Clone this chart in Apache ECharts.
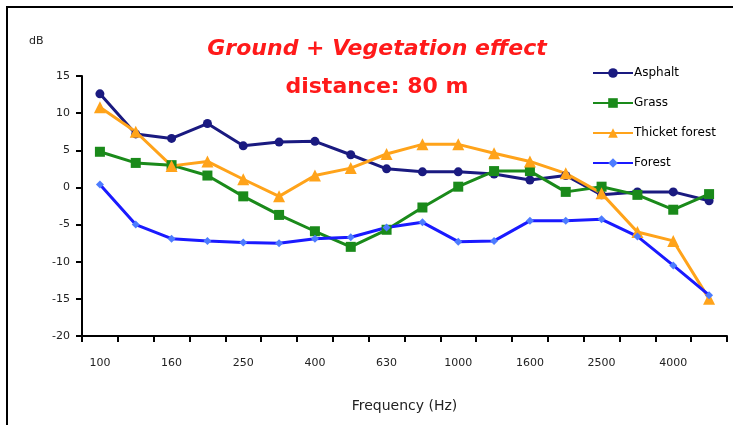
<!DOCTYPE html>
<html><head><meta charset="utf-8">
<script src="https://cdn.jsdelivr.net/npm/echarts@6/dist/echarts.min.js"></script>
<style>html,body{margin:0;padding:0;background:#fff}#c{width:733px;height:425px}</style>
</head><body><div id="c"></div>
<script>
const categories = ['100','125','160','200','250','315','400','500','630','800','1000','1250','1600','2000','2500','3150','4000','5000'];
const asphalt = [12.6, 7.2, 6.6, 8.6, 5.6, 6.1, 6.2, 4.4, 2.5, 2.1, 2.1, 1.8, 1.0, 1.6, -1.0, -0.6, -0.6, -1.8];
const grass = [4.8, 3.3, 3.0, 1.6, -1.2, -3.7, -5.9, -8.0, -5.7, -2.7, 0.1, 2.2, 2.2, -0.6, 0.1, -1.0, -3.0, -0.9];
const thicket = [10.8, 7.5, 2.9, 3.5, 1.1, -1.2, 1.6, 2.6, 4.5, 5.8, 5.8, 4.6, 3.5, 1.9, -0.8, -6.0, -7.2, -15.0];
const forest = [0.4, -5.0, -6.9, -7.2, -7.4, -7.5, -6.9, -6.7, -5.4, -4.7, -7.3, -7.2, -4.5, -4.5, -4.3, -6.6, -10.5, -14.5];
const yTicks = [-20, -15, -10, -5, 0, 5, 10, 15];

const chart = echarts.init(document.getElementById('c'));
const font = 'DejaVu Sans';
function s(name, data, color, symbol, size, mcolor) {
  return {name, type:'line', data, symbol, symbolSize:size, showSymbol:true,
    lineStyle:{color, width:3}, itemStyle:{color: mcolor||color}, z: 3};
}
chart.setOption({
  animation:false,
  backgroundColor:'#fff',
  graphic:[{type:'rect', shape:{x:7,y:7,width:740,height:430}, style:{fill:'none', stroke:'#000', lineWidth:2}, silent:true}],
  title:[
    {text:'Ground + Vegetation effect', left:372, top:33, textAlign:'center',
     textStyle:{color:'#ff1a1a', fontFamily:font, fontSize:22, fontWeight:'bold', fontStyle:'italic'}},
    {text:'distance: 80 m', left:372, top:71, textAlign:'center',
     textStyle:{color:'#ff1a1a', fontFamily:font, fontSize:22, fontWeight:'bold'}},
    {text:'dB', left:24, top:31,
     textStyle:{color:'#222', fontFamily:font, fontSize:11, fontWeight:'normal'}}
  ],
  legend:{orient:'vertical', left:587, top:62, itemGap:18, itemWidth:40, itemHeight:12,
    textStyle:{fontFamily:font, fontSize:12, color:'#000', padding:[0,0,0,-4]},
    data:['Asphalt','Grass','Thicket forest','Forest']},
  grid:{left:82, right:6, top:76, bottom:89},
  xAxis:{type:'category', data:categories, boundaryGap:true,
    name:'Frequency (Hz)', nameLocation:'middle', nameGap:63,
    nameTextStyle:{fontFamily:font, fontSize:14, color:'#222'},
    axisLine:{onZero:false, lineStyle:{color:'#000', width:2}},
    axisTick:{show:true, interval:0, length:6, lineStyle:{color:'#000', width:2}},
    axisLabel:{interval:1, fontFamily:font, fontSize:11, color:'#222', margin:22},
    splitLine:{show:false}},
  yAxis:{type:'value', min:-20, max:15, interval:5,
    axisLine:{show:true, onZero:false, lineStyle:{color:'#000', width:2}},
    axisTick:{show:true, length:6, lineStyle:{color:'#000', width:2}},
    axisLabel:{fontFamily:font, fontSize:11, color:'#222', margin:12,
      formatter: v => yTicks.includes(v) ? String(v) : ''},
    splitLine:{show:false}},
  series:[
    s('Asphalt', asphalt, '#1a1a80', 'circle', 9),
    s('Grass', grass, '#1a8a1a', 'rect', 10),
    s('Thicket forest', thicket, '#ffa31a', 'triangle', 12),
    s('Forest', forest, '#1a1aff', 'diamond', 8, '#4d7cff')
  ]
});
</script></body></html>
